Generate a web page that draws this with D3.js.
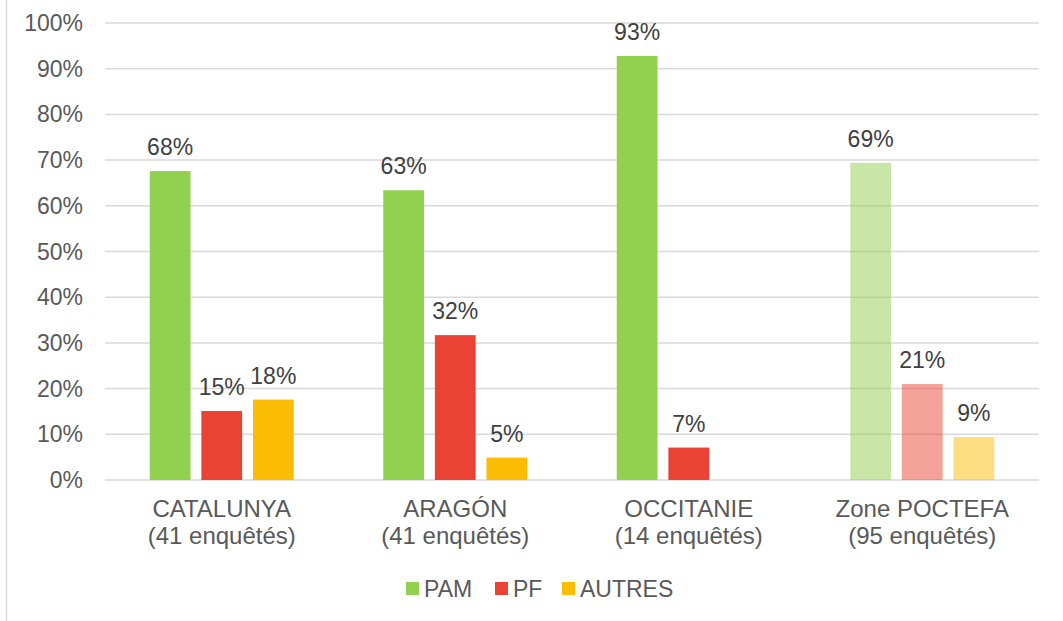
<!DOCTYPE html>
<html>
<head>
<meta charset="utf-8">
<script src="https://cdn.jsdelivr.net/npm/d3@7"></script>
<style>
  body { margin: 0; background: #fff; }
  svg { display: block; font-family: "Liberation Sans", Arial, sans-serif; }
</style>
</head>
<body>
<div id="chart"></div>
<script>
// data
const categories = ['CATALUNYA', 'ARAGÓN', 'OCCITANIE', 'Zone POCTEFA'];
const subLabels = ['(41 enquêtés)', '(41 enquêtés)', '(14 enquêtés)', '(95 enquêtés)'];
const series = ['PAM', 'PF', 'AUTRES'];
const pam = [0.676, 0.634, 0.928, 0.694];
const pf = [0.151, 0.317, 0.071, 0.21];
const autres = [0.176, 0.049, null, 0.094];
const yTicks = [0, 0.1, 0.2, 0.3, 0.4, 0.5, 0.6, 0.7, 0.8, 0.9, 1];

const colors = { PAM: '#92D050', PF: '#EA4335', AUTRES: '#FBBC04' };
const valuesBySeries = { PAM: pam, PF: pf, AUTRES: autres };

const W = 1063, H = 621;
const plotL = 105, plotR = 1039, plotT = 23, plotB = 480;

const svg = d3.select('#chart').append('svg').attr('width', W).attr('height', H);

// left border of the chart frame
svg.append('line').attr('x1', 6.5).attr('x2', 6.5).attr('y1', 0).attr('y2', H)
  .attr('stroke', '#d9d9d9').attr('stroke-width', 1.5);

const y = d3.scaleLinear().domain([0, 1]).range([plotB, plotT]);
const x0 = d3.scaleBand().domain(categories).range([plotL, plotR]);
const groupW = 144, offset = (x0.bandwidth() - groupW) / 2;
const x1 = d3.scaleBand().domain(series).range([offset, offset + groupW]).paddingInner(0.21);

// gridlines + y labels
const yAxis = svg.append('g');
yAxis.selectAll('line').data(yTicks).join('line')
  .attr('x1', plotL).attr('x2', plotR)
  .attr('y1', d => y(d)).attr('y2', d => y(d))
  .attr('stroke', '#d9d9d9').attr('stroke-width', 1.5);
yAxis.selectAll('text').data(yTicks).join('text')
  .attr('x', 83).attr('y', d => y(d)).attr('dy', '0.35em')
  .attr('text-anchor', 'end').attr('fill', '#595959').style('font-size', '23px')
  .text(d3.format('.0%'));

// bars
const rows = [];
categories.forEach((c, i) => series.forEach(s => {
  const v = valuesBySeries[s][i];
  if (v != null) rows.push({ cat: c, s, v, faded: i === 3 });
}));

const bars = svg.append('g');
bars.selectAll('rect').data(rows).join('rect')
  .attr('x', d => x0(d.cat) + x1(d.s))
  .attr('y', d => y(d.v))
  .attr('width', x1.bandwidth())
  .attr('height', d => y(0) - y(d.v))
  .attr('fill', d => colors[d.s])
  .attr('fill-opacity', d => d.faded ? 0.5 : 1);

bars.selectAll('text').data(rows).join('text')
  .attr('x', d => x0(d.cat) + x1(d.s) + x1.bandwidth() / 2)
  .attr('y', d => y(d.v) - 16)
  .attr('text-anchor', 'middle').attr('fill', '#404040').style('font-size', '23px')
  .text(d => Math.round(d.v * 100) + '%');

// category labels
const xl = svg.append('g');
xl.selectAll('text.cat').data(categories).join('text').attr('class', 'cat')
  .attr('x', d => x0(d) + x0.bandwidth() / 2).attr('y', 517)
  .attr('text-anchor', 'middle').attr('fill', '#595959').style('font-size', '24px')
  .text(d => d);
xl.selectAll('text.sub').data(subLabels).join('text').attr('class', 'sub')
  .attr('x', (d, i) => x0(categories[i]) + x0.bandwidth() / 2).attr('y', 544)
  .attr('text-anchor', 'middle').attr('fill', '#595959').style('font-size', '24px')
  .text(d => d);

// legend
const legendX = [406, 495, 562];
const lg = svg.append('g').selectAll('g').data(series).join('g')
  .attr('transform', (d, i) => `translate(${legendX[i]},582)`);
lg.append('rect').attr('width', 13).attr('height', 13).attr('fill', d => colors[d]);
lg.append('text').attr('x', 18).attr('y', 6.5).attr('dy', '0.35em')
  .attr('fill', '#595959').style('font-size', '23px').text(d => d);
</script>
</body>
</html>
